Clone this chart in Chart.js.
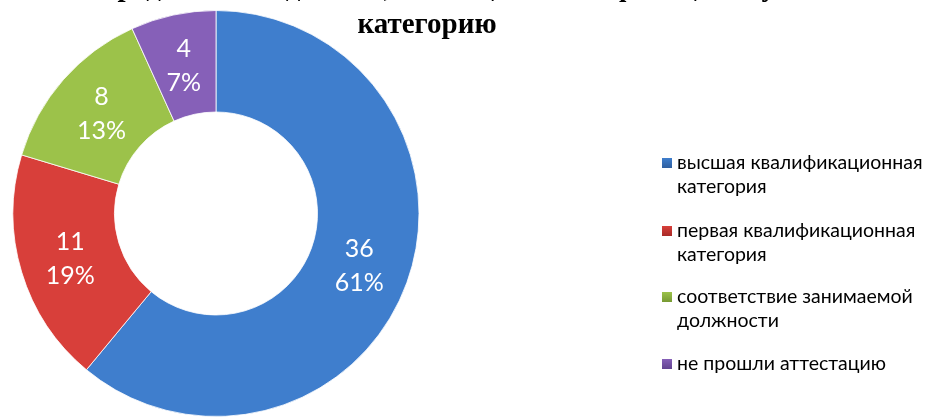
<!DOCTYPE html>
<html>
<head>
<meta charset="utf-8">
<script src="https://cdn.jsdelivr.net/npm/chart.js@4"></script>
<style>
  html, body { margin: 0; padding: 0; background: #fff; overflow: hidden; }
  #wrap { position: relative; width: 927px; height: 417px; }
</style>
</head>
<body>
<div id="wrap"><canvas id="pieChart" width="927" height="417"></canvas></div>
<script>
// data
const categories = [
    'высшая квалификационная\nкатегория',
    'первая квалификационная\nкатегория',
    'соответствие занимаемой\nдолжности',
    'не прошли аттестацию'
];
const counts = [36, 11, 8, 4];
const percentLabels = ['61%', '19%', '13%', '7%'];
const titleLines = ['Распределение педагогов, имеющих квалификационную', 'категорию'];

const sliceColors = [
    ['#2f5f9f', '#3f7ecd'],
    ['#a82a27', '#d83f3a'],
    ['#779a33', '#9cc24a'],
    ['#624490', '#8660b8']
];

function sliceFill(ctx) {
    const c = sliceColors[ctx.dataIndex];
    const arc = ctx.element;
    if (!arc || !arc.outerRadius) return c[1];
    const g = ctx.chart.ctx.createRadialGradient(arc.x, arc.y, arc.innerRadius, arc.x, arc.y, arc.outerRadius);
    g.addColorStop(0, c[0]);
    g.addColorStop(0.1, c[1]);
    g.addColorStop(0.88, c[1]);
    g.addColorStop(1, c[0]);
    return g;
}

const labelsPlugin = {
    id: 'sliceLabels',
    afterDatasetsDraw(chart) {
        const ctx = chart.ctx;
        const meta = chart.getDatasetMeta(0);
        ctx.save();
        ctx.fillStyle = '#fff';
        ctx.font = '25px Lato';
        ctx.textAlign = 'center';
        ctx.textBaseline = 'middle';
        meta.data.forEach((arc, i) => {
            const p = arc.tooltipPosition();
            ctx.fillText(String(counts[i]), p.x, p.y - 16);
            ctx.fillText(percentLabels[i], p.x, p.y + 18);
        });
        ctx.restore();
    },
    afterDraw(chart) {
        const ctx = chart.ctx;
        ctx.save();
        // title (top line is cut by the image edge)
        ctx.fillStyle = '#000';
        ctx.font = 'bold 29px "Liberation Serif"';
        ctx.textAlign = 'center';
        ctx.textBaseline = 'alphabetic';
        ctx.fillText(titleLines[0], 427, -4);
        ctx.fillText(titleLines[1], 427, 33);

        // legend
        const tops = [163, 231, 297, 364];
        ctx.font = '19.5px Lato';
        ctx.textAlign = 'left';
        ctx.textBaseline = 'middle';
        categories.forEach((cat, i) => {
            const y = tops[i];
            const c = sliceColors[i];
            const g = ctx.createLinearGradient(662, y - 5, 662, y + 5);
            g.addColorStop(0, c[1]);
            g.addColorStop(1, c[0]);
            ctx.fillStyle = g;
            ctx.fillRect(662, y - 5, 10, 10);
            ctx.fillStyle = '#000';
            cat.split('\n').forEach((line, k) => {
                ctx.fillText(line, 677, y + k * 24);
            });
        });
        ctx.restore();
    }
};

new Chart(document.getElementById('pieChart'), {
    type: 'doughnut',
    data: {
        labels: categories,
        datasets: [{
            data: counts,
            backgroundColor: sliceFill,
            borderColor: 'rgba(255,255,255,0.8)',
            borderWidth: 1
        }]
    },
    options: {
        responsive: false,
        animation: false,
        cutout: '50%',
        layout: { padding: { left: 12, right: 507, top: 10, bottom: 0 } },
        plugins: {
            legend: { display: false },
            title: { display: false },
            tooltip: { enabled: false }
        }
    },
    plugins: [labelsPlugin]
});
</script>
</body>
</html>
